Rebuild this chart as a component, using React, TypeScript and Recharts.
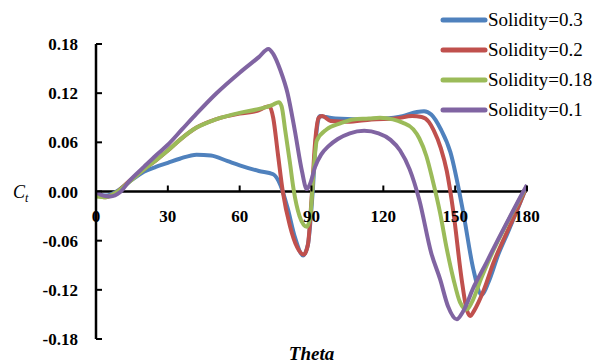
import React from 'react';
import { LineChart, Line, XAxis, YAxis, ReferenceLine, Legend } from 'recharts';

// ---------- data ----------
const seriesNames = ['Solidity=0.3', 'Solidity=0.2', 'Solidity=0.18', 'Solidity=0.1'];
const seriesColors = ['#4F81BD', '#C0504D', '#9BBB59', '#8064A2'];

const xTicks = [0, 30, 60, 90, 120, 150, 180];
const yTicks = [-0.18, -0.12, -0.06, 0, 0.06, 0.12, 0.18];

const thetaS03 = [0, 4, 8, 14, 20, 25, 30, 35, 42, 48, 55, 60, 68, 74, 77, 80, 83, 86.5, 88.5, 90.5, 92, 93.5, 96, 100, 110, 120, 128, 134, 137, 140, 144, 148, 153.4, 157.6, 161, 164, 168, 172, 176, 180];
const ctS03 = [-0.002, -0.005, -0.001, 0.012, 0.024, 0.03, 0.035, 0.04, 0.045, 0.044, 0.037, 0.032, 0.025, 0.021, 0.008, -0.02, -0.055, -0.078, -0.065, 0.0, 0.07, 0.092, 0.091, 0.089, 0.088, 0.089, 0.092, 0.097, 0.098, 0.094, 0.076, 0.048, -0.026, -0.095, -0.126, -0.11, -0.077, -0.05, -0.022, 0.007];

const thetaS02 = [0, 4, 8, 14, 20, 25, 30, 35, 42, 50, 60, 67, 72.4, 74, 76, 78, 81, 84, 86.8, 88.5, 90, 91.5, 93, 94.5, 98, 105, 115, 125, 132, 136, 139, 141, 144, 146.5, 149.3, 152.7, 154.5, 156.2, 158, 162, 166, 170, 175, 180];
const ctS02 = [-0.004, -0.007, -0.002, 0.013, 0.027, 0.038, 0.05, 0.063, 0.078, 0.088, 0.095, 0.098, 0.104, 0.09, 0.045, 0.0, -0.042, -0.068, -0.077, -0.065, -0.01, 0.06, 0.09, 0.092, 0.086, 0.085, 0.088, 0.089, 0.092, 0.091, 0.085, 0.075, 0.053, 0.025, -0.026, -0.107, -0.14, -0.152, -0.145, -0.12, -0.087, -0.06, -0.028, 0.007];

const thetaS018 = [0, 4, 8, 14, 20, 25, 30, 35, 42, 50, 60, 67, 71, 74, 76.3, 77.5, 79, 81, 82.5, 85, 88, 89.5, 91, 92.2, 96.4, 102, 107.5, 114, 118.6, 124, 128, 132.5, 135, 138, 140.5, 143.7, 146.5, 149.3, 152, 154.8, 157, 161, 165, 170, 175, 180];
const ctS018 = [-0.006, -0.007, -0.002, 0.012, 0.027, 0.038, 0.05, 0.063, 0.078, 0.088, 0.096, 0.1, 0.103, 0.106, 0.109, 0.104, 0.075, 0.035, 0.003, -0.03, -0.043, -0.03, 0.03, 0.062, 0.076, 0.083, 0.088, 0.089, 0.09, 0.088, 0.084, 0.076, 0.065, 0.043, 0.015, -0.026, -0.07, -0.107, -0.135, -0.144, -0.135, -0.105, -0.078, -0.048, -0.02, 0.007];

const thetaS01 = [0, 3, 6, 10, 14, 20, 25, 30, 36, 42, 50, 60, 68, 72, 74, 77, 80, 83, 86, 88, 89.5, 91.5, 94, 97, 101, 106, 112, 118, 123, 127, 131, 135, 140, 143.7, 147, 150.7, 153, 158, 163, 168, 173, 177, 180];
const ctS01 = [-0.001, -0.005, -0.006, -0.001, 0.013, 0.03, 0.044, 0.057, 0.076, 0.095, 0.119, 0.145, 0.164, 0.174, 0.168, 0.148, 0.12, 0.075, 0.025, 0.003, 0.01, 0.03, 0.045, 0.055, 0.064, 0.071, 0.074, 0.071, 0.063, 0.05, 0.027, -0.01, -0.075, -0.107, -0.14, -0.156, -0.148, -0.115, -0.087, -0.058, -0.03, -0.008, 0.008];

const build = (th: number[], ct: number[]) => th.map((t, i) => ({ theta: t, ct: ct[i] }));
const seriesData = [
  build(thetaS03, ctS03),
  build(thetaS02, ctS02),
  build(thetaS018, ctS018),
  build(thetaS01, ctS01),
];

// ---------- layout ----------
const W = 605;
const H = 363;
const MARGIN = { top: 44, right: 78, bottom: 0, left: 36 };
const Y_WIDTH = 60;
const X_HEIGHT = 24;
const PLOT_H = H - MARGIN.top - MARGIN.bottom - X_HEIGHT;
const ZERO_Y = MARGIN.top + PLOT_H / 2;
const AXIS_X = MARGIN.left + Y_WIDTH;
const FONT = "'Liberation Serif', 'DejaVu Serif', 'Times New Roman', Times, serif";

const XTick = (props: any) => {
  const { x, payload } = props;
  return (
    <g>
      <line x1={x} x2={x} y1={ZERO_Y} y2={ZERO_Y - 6} stroke="#000" strokeWidth={2} />
      <text x={x} y={ZERO_Y + 24} dy="0.355em" textAnchor="middle" style={{ fontFamily: FONT, fontWeight: 'bold', fontSize: 17 }} fill="#000">
        {payload.value}
      </text>
    </g>
  );
};

const YTick = (props: any) => {
  const { y, payload } = props;
  return (
    <g>
      <line x1={AXIS_X} x2={AXIS_X + 6} y1={y} y2={y} stroke="#000" strokeWidth={2} />
      <text x={AXIS_X - 18} y={y} dy="0.355em" textAnchor="end" style={{ fontFamily: FONT, fontWeight: 'bold', fontSize: 17 }} fill="#000">
        {Number(payload.value).toFixed(2)}
      </text>
    </g>
  );
};

const CtLabel = (props: any) => {
  const vb = props.viewBox || { x: MARGIN.left, y: MARGIN.top, width: Y_WIDTH, height: PLOT_H };
  const cy = vb.y + vb.height / 2;
  return (
    <text x={vb.x - 23} y={cy + 6} style={{ fontFamily: FONT, fontStyle: 'italic', fontSize: 18 }} fill="#000">
      C
      <tspan style={{ fontSize: 12 }} dy={4}>t</tspan>
    </text>
  );
};

const ThetaLabel = (props: any) => {
  const vb = props.viewBox || { x: AXIS_X, y: H - X_HEIGHT, width: W - AXIS_X - MARGIN.right, height: X_HEIGHT };
  return (
    <text x={vb.x + vb.width / 2} y={vb.y + vb.height - 3} textAnchor="middle" style={{ fontFamily: FONT, fontStyle: 'italic', fontWeight: 'bold', fontSize: 19 }} fill="#000">
      Theta
    </text>
  );
};

const LegendContent = () => (
  <div style={{ fontFamily: FONT, fontSize: 19, color: '#000' }}>
    {seriesNames.map((name, i) => (
      <div key={name} style={{ display: 'flex', alignItems: 'center', height: 30 }}>
        <svg width={48} height={10} style={{ display: 'block' }}>
          <line x1={3} x2={45} y1={5} y2={5} stroke={seriesColors[i]} strokeWidth={5} strokeLinecap="round" />
        </svg>
        <span style={{ whiteSpace: 'nowrap', lineHeight: '30px' }}>{name}</span>
      </div>
    ))}
  </div>
);

export default function App() {
  return (
    <div style={{ position: 'absolute', left: 0, top: 0, width: W, height: H, background: '#fff', fontFamily: FONT }}>
      <LineChart width={W} height={H} margin={MARGIN} style={{ fontFamily: FONT }}>
        <XAxis
          type="number"
          dataKey="theta"
          domain={[0, 180]}
          ticks={xTicks}
          axisLine={false}
          tickLine={false}
          tick={<XTick />}
          height={X_HEIGHT}
          interval={0}
          allowDataOverflow
          label={<ThetaLabel />}
        />
        <YAxis
          type="number"
          domain={[-0.18, 0.18]}
          ticks={yTicks}
          width={Y_WIDTH}
          axisLine={{ stroke: '#000', strokeWidth: 2.5 }}
          tickLine={false}
          tickSize={0}
          tick={<YTick />}
          interval={0}
          allowDataOverflow
          label={<CtLabel />}
        />
        <ReferenceLine y={0} stroke="#000" strokeWidth={2.5} ifOverflow="extendDomain" />
        {seriesData.map((d, i) => (
          <Line
            key={seriesNames[i]}
            data={d}
            dataKey="ct"
            name={seriesNames[i]}
            type="monotone"
            stroke={seriesColors[i]}
            strokeWidth={4}
            dot={false}
            activeDot={false}
            isAnimationActive={false}
          />
        ))}
        <Legend
          layout="horizontal"
          align="center"
          verticalAlign="middle"
          content={<LegendContent />}
          wrapperStyle={{ position: 'absolute', left: 440, top: 5, width: 165, height: 120 }}
        />
      </LineChart>
    </div>
  );
}
